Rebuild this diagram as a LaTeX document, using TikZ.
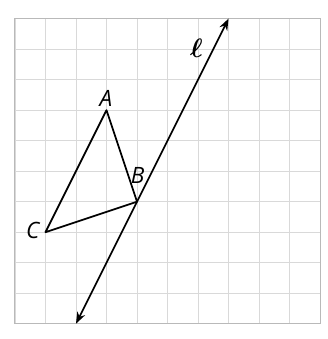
\documentclass[tikz,border=0pt]{standalone}
\usepackage{amsmath, amssymb}
\usepackage{fontspec}
\setsansfont{Open Sans}
\usepackage{tikz}
\usetikzlibrary{arrows.meta, positioning, calc}

\begin{document}
\begin{tikzpicture}[
  segment/.style={line width=1.6pt, black},
  lbl/.style={font=\sffamily\itshape\fontsize{21}{24}\selectfont, inner sep=1pt}
]
  \useasboundingbox (-0.49,-0.5) rectangle (10.23,10.61);

  % Quadrillage
  \draw[gray!30, line width=0.8pt] (0,0) grid (10,10);
  \draw[gray!55, line width=0.9pt] (0,0) rectangle (10,10);

  % Sommets du triangle
  \coordinate (A) at (3,7);
  \coordinate (B) at (4,4);
  \coordinate (C) at (1,3);

  % Extremites de la droite l
  \coordinate (Lbas) at (2,0);
  \coordinate (Lhaut) at (7,10);

  % Triangle ABC
  \draw[segment, line join=round] (A) -- (B) -- (C) -- cycle;

  % Droite l (fleches aux deux bouts)
  \draw[segment, {Stealth[length=3.8mm, width=2.8mm]}-{Stealth[length=3.8mm, width=2.8mm]}] (Lbas) -- (Lhaut);

  % Etiquettes
  \node[lbl] (labA) at (2.98,7.38) {A};
  \node[lbl] (labB) at (4.02,4.86) {B};
  \node[lbl] (labC) at (0.58,3.05) {C};
  \node[font=\fontsize{23}{26}\selectfont] (labL) at (5.95,9.03) {$\boldsymbol{\ell}$};
\end{tikzpicture}
\end{document}
